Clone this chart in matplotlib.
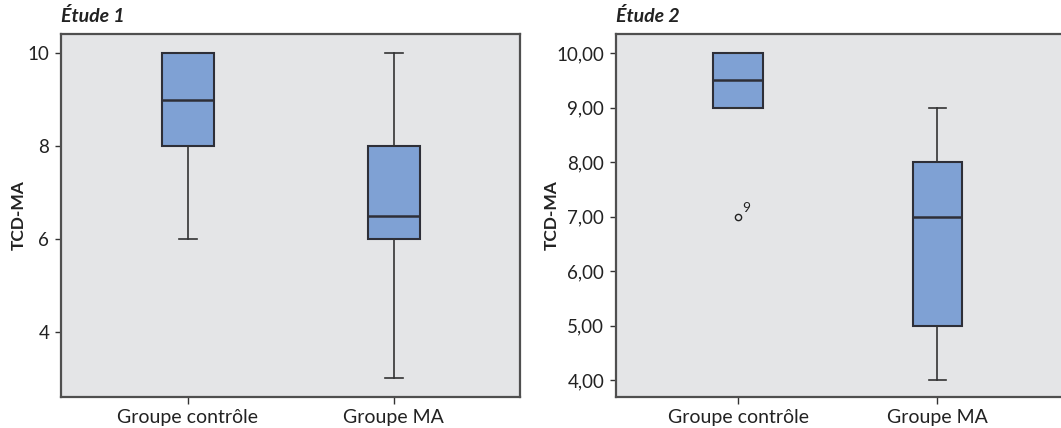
import matplotlib
matplotlib.use("Agg")
import matplotlib.pyplot as plt
from matplotlib.ticker import FuncFormatter

plt.rcParams['font.family'] = ['Lato', 'DejaVu Sans']

# ---- data ----
groups = ["Groupe contrôle", "Groupe MA"]

# Étude 1: min, q1, median, q3, max
e1_whislo = [6, 3]
e1_q1 = [8, 6]
e1_med = [9, 6.5]
e1_q3 = [10, 8]
e1_whishi = [10, 10]

# Étude 2
e2_whislo = [9, 4]
e2_q1 = [9, 5]
e2_med = [9.5, 7]
e2_q3 = [10, 8]
e2_whishi = [10, 9]
e2_fliers = [[7], []]
e2_flier_ids = [["9"], []]

BG = "#e4e5e7"
FILL = "#7fa1d4"
EDGE = "#2e2f38"
SPINE = "#4f4f4f"


def make_stats(lo, q1, med, q3, hi, fl=None):
    out = []
    for i in range(len(lo)):
        out.append({"whislo": lo[i], "q1": q1[i], "med": med[i], "q3": q3[i],
                    "whishi": hi[i], "fliers": fl[i] if fl else []})
    return out


def style_ax(ax):
    ax.set_facecolor(BG)
    for s in ax.spines.values():
        s.set_color(SPINE)
        s.set_linewidth(1.6)
    ax.tick_params(axis="both", colors="#333333", labelcolor="#222222",
                   labelsize=13.5, length=4, width=1, pad=4.5)
    ax.tick_params(axis="x", length=5, labelsize=14, pad=4)
    ax.set_ylabel("TCD-MA", fontsize=12.5, fontweight="bold", color="#222222")


def draw(ax, stats):
    ax.bxp(stats, positions=[1, 2], widths=0.25, capwidths=0.09,
           patch_artist=True, showfliers=True,
           boxprops=dict(facecolor=FILL, edgecolor=EDGE, linewidth=1.5),
           medianprops=dict(color=EDGE, linewidth=1.8),
           whiskerprops=dict(color="#333333", linewidth=1.2),
           capprops=dict(color="#333333", linewidth=1.2),
           flierprops=dict(marker="o", markersize=4.5, markerfacecolor="none",
                           markeredgecolor="#222222", markeredgewidth=1))


fig = plt.figure(figsize=(10.61, 4.28), dpi=100)
W, H = 1061, 428

# ---- Étude 1 ----
ax1 = fig.add_axes([61 / W, 1 - 397 / H, (520 - 61) / W, (397 - 34) / H])
draw(ax1, make_stats(e1_whislo, e1_q1, e1_med, e1_q3, e1_whishi))
style_ax(ax1)
ax1.set_xlim(0.383, 2.613)
ax1.set_ylim(2.6, 10.41)
ax1.set_yticks([4, 6, 8, 10])
ax1.set_xticks([1, 2])
ax1.set_xticklabels(groups)
ax1.yaxis.set_label_coords(-0.075, 0.5)
ax1.text(0.0, 1.025, "Étude 1", transform=ax1.transAxes, fontsize=14,
         fontweight="bold", fontstyle="italic", color="#222222",
         ha="left", va="bottom")

# ---- Étude 2 ----
ax2 = fig.add_axes([616 / W, 1 - 397 / H, (1075 - 616) / W, (397 - 34) / H])
draw(ax2, make_stats(e2_whislo, e2_q1, e2_med, e2_q3, e2_whishi, e2_fliers))
style_ax(ax2)
ax2.set_xlim(0.387, 2.69)
ax2.set_ylim(3.69, 10.35)
ax2.set_yticks([4, 5, 6, 7, 8, 9, 10])
ax2.yaxis.set_major_formatter(FuncFormatter(lambda v, p: f"{v:.2f}".replace(".", ",")))
ax2.set_xticks([1, 2])
ax2.set_xticklabels(groups)
ax2.yaxis.set_label_coords(-0.123, 0.5)
for i, (vals, ids) in enumerate(zip(e2_fliers, e2_flier_ids)):
    for v, lab in zip(vals, ids):
        ax2.annotate(lab, (i + 1, v), xytext=(3, 2), textcoords="offset points",
                     fontsize=10, color="#222222", ha="left", va="bottom")
ax2.text(0.0, 1.025, "Étude 2", transform=ax2.transAxes, fontsize=14,
         fontweight="bold", fontstyle="italic", color="#222222",
         ha="left", va="bottom")

fig.savefig("out.png", dpi=100, facecolor="white")
